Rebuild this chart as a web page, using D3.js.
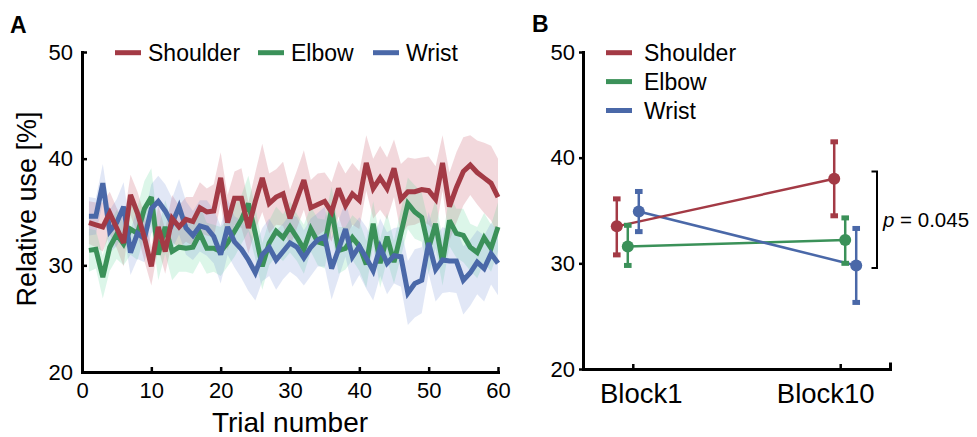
<!DOCTYPE html>
<html>
<head>
<meta charset="utf-8">
<script src="https://cdn.jsdelivr.net/npm/d3@7/dist/d3.min.js"></script>
<style>
  html, body { margin: 0; padding: 0; background: #fff; }
  svg { display: block; font-family: "Liberation Sans", Arial, Helvetica, sans-serif; }
</style>
</head>
<body>
<svg id="chart" width="977" height="437"></svg>
<script>
// ---------- DATA ----------
const seriesNames = ["Shoulder", "Elbow", "Wrist"];
const trials = d3.range(1, 61);

const shoulderMean = [34.0,33.8,33.6,34.9,33.5,32.1,36.6,34.9,32.6,29.9,
                      33.6,31.3,34.4,33.6,34.3,34.1,35.4,35.0,35.1,38.2,
                      34.0,36.3,36.3,33.5,36.0,38.2,35.8,36.4,36.7,34.4,
                      36.2,38.0,35.4,35.7,36.0,35.0,37.2,35.6,36.7,36.1,
                      39.6,37.2,38.2,37.2,39.1,36.2,36.9,36.9,37.1,37.0,
                      36.2,39.6,35.5,37.3,38.8,39.4,38.7,38.2,37.7,36.4];
const shoulderErr  = [2.0,2.1,2.3,2.0,1.9,2.2,1.9,2.0,2.2,1.8,
                      2.0,2.1,2.2,2.0,2.1,2.3,2.4,2.2,2.5,2.4,
                      2.6,2.5,2.8,2.4,2.7,3.2,2.8,2.6,3.0,2.7,
                      2.7,2.8,2.6,2.9,2.7,2.8,2.6,3.0,2.9,2.7,
                      2.6,2.8,3.0,2.9,2.7,3.3,3.2,3.1,3.0,3.2,
                      3.1,2.6,3.2,3.3,3.2,2.8,3.0,3.3,3.5,3.6];

const elbowMean = [31.4,31.5,28.9,31.7,32.9,32.0,33.4,33.0,35.3,36.4,
                   31.0,33.6,31.3,31.7,31.6,31.7,33.0,31.6,31.6,31.3,
                   32.1,33.2,34.3,35.8,33.0,29.9,32.1,33.2,32.6,33.6,
                   32.6,31.5,33.4,32.2,32.0,35.3,31.4,31.6,32.6,31.8,
                   30.1,33.9,30.2,32.7,30.3,33.0,35.8,35.0,34.5,31.6,
                   33.9,30.3,34.2,33.0,32.8,31.7,31.2,32.6,31.6,33.6];
const elbowErr  = [2.0,1.8,2.0,2.2,2.3,2.0,2.4,2.5,2.6,2.7,
                   2.4,2.5,2.7,2.3,2.2,2.5,2.6,2.4,2.2,2.3,
                   2.2,2.4,2.3,2.6,2.4,2.2,2.1,2.3,2.2,2.4,
                   2.2,2.3,2.1,2.2,2.3,2.1,2.2,2.0,2.1,2.3,
                   2.2,2.1,2.3,2.2,2.0,2.2,2.4,2.5,2.3,2.4,
                   2.3,2.2,2.4,2.3,2.5,2.2,2.4,2.3,2.2,2.3];

const wristMean = [34.6,34.6,37.7,33.2,34.0,35.5,31.2,33.0,32.5,35.3,
                   36.0,35.1,33.9,35.5,33.5,32.8,33.7,33.5,32.7,31.0,
                   33.6,32.2,31.5,30.5,29.3,31.0,31.7,30.5,31.3,32.1,
                   31.7,30.7,31.7,32.4,32.7,29.7,31.5,33.4,30.8,31.8,
                   30.7,29.5,31.7,30.2,30.9,30.8,27.4,28.3,28.6,32.1,
                   29.6,30.5,30.4,30.4,28.6,29.3,30.3,29.7,31.1,30.2];
const wristErr  = [1.8,1.7,1.8,2.0,2.2,2.3,2.1,2.4,2.2,2.3,
                   2.4,2.5,2.4,2.6,2.5,2.3,2.4,2.6,2.5,2.7,
                   2.6,2.4,2.7,2.9,2.6,2.5,2.7,2.8,2.6,2.7,
                   2.8,2.6,2.7,2.5,2.8,2.9,2.7,2.6,2.8,2.7,
                   2.9,2.8,2.7,2.9,2.6,2.8,3.0,3.2,3.1,2.9,
                   3.0,3.1,2.9,3.0,3.2,3.1,3.0,3.1,2.9,3.0];

const xTicksA = [0, 10, 20, 30, 40, 50, 60];
const yTicks = [20, 30, 40, 50];

// Panel B
const blocks = ["Block1", "Block10"];
const blockShoulder = [33.5, 38.0];
const blockShoulderHi = [36.1, 41.5];
const blockShoulderLo = [30.8, 34.5];
const blockElbow = [31.6, 32.2];
const blockElbowHi = [33.6, 34.3];
const blockElbowLo = [29.8, 30.0];
const blockWrist = [34.9, 29.8];
const blockWristHi = [36.8, 33.3];
const blockWristLo = [33.0, 26.3];
const pText = "0.045";

// ---------- STYLE ----------
const lineColors = { Shoulder: "#a33a45", Elbow: "#3b9159", Wrist: "#4a68a8" };
const bandColors = { Shoulder: "#c2485a", Elbow: "#5ed49c", Wrist: "#6f8ed4" };

const svg = d3.select("#chart");

// ================= PANEL A =================
const xA = d3.scaleLinear().domain([0, 60]).range([82, 498]);
const yA = d3.scaleLinear().domain([20, 50]).range([372, 52]);

const seriesA = [
  { name: "Shoulder", mean: shoulderMean, err: shoulderErr },
  { name: "Elbow", mean: elbowMean, err: elbowErr },
  { name: "Wrist", mean: wristMean, err: wristErr }
];

const gA = svg.append("g");

const area = d3.area()
  .x((d, i) => xA(trials[i]))
  .y0(d => yA(d[0] - d[1]))
  .y1(d => yA(d[0] + d[1]));

const line = d3.line()
  .x((d, i) => xA(trials[i]))
  .y(d => yA(d));

// bands
["Shoulder", "Elbow", "Wrist"].forEach(n => {
  const s = seriesA.find(s => s.name === n);
  gA.append("path")
    .datum(s.mean.map((m, i) => [m, s.err[i]]))
    .attr("d", area)
    .attr("fill", bandColors[n])
    .attr("fill-opacity", n === "Elbow" ? 0.22 : 0.21)
    .attr("stroke", "none");
});

// lines (red on top)
["Elbow", "Wrist", "Shoulder"].forEach(n => {
  const s = seriesA.find(s => s.name === n);
  gA.append("path")
    .datum(s.mean)
    .attr("d", line)
    .attr("fill", "none")
    .attr("stroke", lineColors[n])
    .attr("stroke-width", 5)
    .attr("stroke-linejoin", "miter")
    .attr("stroke-miterlimit", 3);
});

// axes A
const axXA = d3.axisBottom(xA).tickValues(xTicksA).tickFormat(d3.format("d"))
  .tickSizeInner(-5).tickSizeOuter(0).tickPadding(10);
const gxA = gA.append("g").attr("transform", `translate(0,${yA(20)})`).call(axXA);
const axYA = d3.axisLeft(yA).tickValues(yTicks).tickFormat(d3.format("d"))
  .tickSizeInner(-5).tickSizeOuter(0).tickPadding(9);
const gyA = gA.append("g").attr("transform", `translate(${xA(0)},0)`).call(axYA);

[gxA, gyA].forEach(g => {
  g.select(".domain").attr("stroke", "#000").attr("stroke-width", 3).attr("stroke-linecap", "square");
  g.selectAll(".tick line").attr("stroke", "#000").attr("stroke-width", 2.5);
  g.selectAll(".tick text").attr("fill", "#000").attr("font-size", 22)
    .attr("font-family", "Liberation Sans, Arial, sans-serif");
});

gA.append("text").attr("x", 290).attr("y", 432).attr("text-anchor", "middle")
  .attr("font-size", 28).attr("fill", "#000").text("Trial number");
gA.append("text")
  .attr("transform", `translate(36,${209}) rotate(-90)`)
  .attr("text-anchor", "middle").attr("font-size", 27).attr("fill", "#000")
  .text("Relative use [%]");

// legend A
const legA = [{ n: "Shoulder", x: 115 }, { n: "Elbow", x: 258 }, { n: "Wrist", x: 373 }];
legA.forEach(l => {
  gA.append("line").attr("x1", l.x).attr("x2", l.x + 26).attr("y1", 52.7).attr("y2", 52.7)
    .attr("stroke", lineColors[l.n]).attr("stroke-width", 5);
  gA.append("text").attr("x", l.x + 33).attr("y", 60.5).attr("font-size", 23)
    .attr("fill", "#000").text(l.n);
});

svg.append("text").attr("x", 10).attr("y", 32.5).attr("font-size", 23)
  .attr("font-weight", "bold").attr("fill", "#000").text("A");

// ================= PANEL B =================
const gB = svg.append("g");
const xB = d3.scalePoint().domain(blocks).range([583, 890]).padding(0.24);
const yB = d3.scaleLinear().domain([20, 50]).range([369, 52]);

const dodge = { Shoulder: [-16, -6], Elbow: [-5, 5], Wrist: [6, 16] };
const seriesB = [
  { name: "Elbow", mean: blockElbow, hi: blockElbowHi, lo: blockElbowLo },
  { name: "Wrist", mean: blockWrist, hi: blockWristHi, lo: blockWristLo },
  { name: "Shoulder", mean: blockShoulder, hi: blockShoulderHi, lo: blockShoulderLo }
];
const px = (n, i) => xB(blocks[i]) + dodge[n][i];

// connecting lines
seriesB.forEach(s => {
  gB.append("path")
    .datum(s.mean)
    .attr("d", d3.line().x((d, i) => px(s.name, i)).y(d => yB(d)))
    .attr("fill", "none").attr("stroke", lineColors[s.name]).attr("stroke-width", 2.5);
});

// error bars + points
seriesB.forEach(s => {
  s.mean.forEach((m, i) => {
    const cx = px(s.name, i);
    gB.append("line").attr("x1", cx).attr("x2", cx)
      .attr("y1", yB(s.hi[i])).attr("y2", yB(s.lo[i]))
      .attr("stroke", lineColors[s.name]).attr("stroke-width", 2.5);
    [s.hi[i], s.lo[i]].forEach(v => {
      gB.append("rect").attr("x", cx - 3.8).attr("y", yB(v) - 2.5)
        .attr("width", 7.6).attr("height", 5).attr("fill", lineColors[s.name]);
    });
    gB.append("circle").attr("cx", cx).attr("cy", yB(m)).attr("r", 6)
      .attr("fill", lineColors[s.name]);
  });
});

// axes B
const axXB = d3.axisBottom(xB).tickSizeInner(-5).tickSizeOuter(-5).tickPadding(14);
const gxB = gB.append("g").attr("transform", `translate(0,${yB(20)})`).call(axXB);
const axYB = d3.axisLeft(yB).tickValues(yTicks).tickFormat(d3.format("d"))
  .tickSizeInner(4).tickSizeOuter(0).tickPadding(4);
const gyB = gB.append("g").attr("transform", `translate(583,0)`).call(axYB);
[gxB, gyB].forEach(g => {
  g.select(".domain").attr("stroke", "#000").attr("stroke-width", 3).attr("stroke-linecap", "square");
  g.selectAll(".tick line").attr("stroke", "#000").attr("stroke-width", 2.5);
  g.selectAll(".tick text").attr("fill", "#000")
    .attr("font-family", "Liberation Sans, Arial, sans-serif");
});
gyB.selectAll(".tick text").attr("font-size", 22);
const labelShift = { Block1: 8, Block10: -15 };
gxB.selectAll(".tick text").attr("font-size", 27.5)
  .attr("dx", d => labelShift[d]);

// legend B
seriesNames.forEach((n, i) => {
  const y = 52.7 + i * 28.9;
  gB.append("line").attr("x1", 606).attr("x2", 632).attr("y1", y).attr("y2", y)
    .attr("stroke", lineColors[n]).attr("stroke-width", 5);
  gB.append("text").attr("x", 644).attr("y", y + 8).attr("font-size", 23)
    .attr("fill", "#000").text(n);
});

// significance bracket
const yTopBr = yB(blockShoulder[1]) - 7.3;
const yBotBr = yB(blockWrist[1]) + 2.5;
gB.append("path")
  .attr("d", `M871.5,${yTopBr}H877V${yBotBr}H871.5`)
  .attr("fill", "none").attr("stroke", "#000").attr("stroke-width", 2);
const pt = gB.append("text").attr("x", 883).attr("y", 227).attr("font-size", 20.5).attr("fill", "#000");
pt.append("tspan").attr("font-style", "italic").text("p");
pt.append("tspan").text(" = " + pText);

svg.append("text").attr("x", 532).attr("y", 32).attr("font-size", 23)
  .attr("font-weight", "bold").attr("fill", "#000").text("B");
</script>
</body>
</html>
